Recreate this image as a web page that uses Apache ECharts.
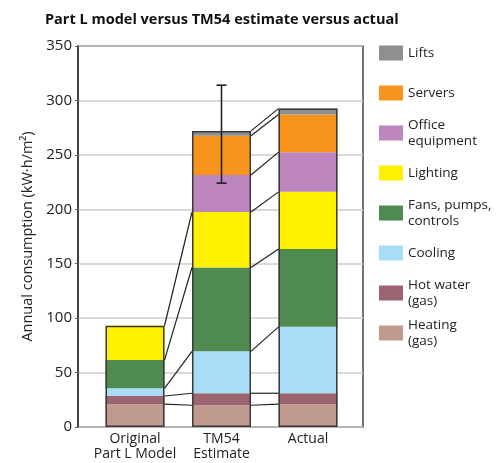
<!DOCTYPE html>
<html>
<head>
<meta charset="utf-8">
<script src="https://cdn.jsdelivr.net/npm/echarts@6/dist/echarts.min.js"></script>
<style>
  html, body { margin: 0; padding: 0; background: #fff; }
  #chart { width: 496px; height: 463px; }
</style>
</head>
<body>
<div id="chart"></div>
<script>
// categories + stacked segments (kW·h/m² per year), bottom to top
const categories = ['Original\nPart L Model', 'TM54\nEstimate', 'Actual'];
const heating  = [21, 20, 21];
const hotWater = [7.5, 11, 10];
const cooling  = [7, 38.5, 61];
const fans     = [26, 77, 71.5];
const lighting = [31.5, 51, 52.5];
const office   = [0, 34, 36.5];
const servers  = [0, 36, 34.5];
const lifts    = [0, 4.5, 5.5];
// TM54 estimate range (error bar), index 1
const tm54Range = [224, 314];
const yMin = 0, yMax = 350, yStep = 50;

const font = 'Open Sans';
const barW = 59;

const layers = [
  { name: 'Heating (gas)', label: 'Heating\n(gas)', data: heating, color: '#c09a8f' },
  { name: 'Hot water (gas)', label: 'Hot water\n(gas)', data: hotWater, color: '#9c6371' },
  { name: 'Cooling', label: 'Cooling', data: cooling, color: '#a9dcf5' },
  { name: 'Fans, pumps, controls', label: 'Fans, pumps,\ncontrols', data: fans, color: '#4f8b50' },
  { name: 'Lighting', label: 'Lighting', data: lighting, color: '#fff000' },
  { name: 'Office equipment', label: 'Office\nequipment', data: office, color: '#bd86bf' },
  { name: 'Servers', label: 'Servers', data: servers, color: '#f7941e' },
  { name: 'Lifts', label: 'Lifts', data: lifts, color: '#8e8f91' }
];

// cumulative tops per bar
const cum = categories.map((c, i) => {
  let s = 0;
  return layers.map(l => (s += l.data[i]));
});
const totals = cum.map(r => r[r.length - 1]);

// connector lines between matching segment tops of neighbouring bars
const links = [];
for (let i = 0; i < categories.length - 1; i++) {
  layers.forEach((l, k) => {
    if (l.data[i] > 0 && l.data[i + 1] > 0) links.push([i, cum[i][k], cum[i + 1][k]]);
  });
}

const chart = echarts.init(document.getElementById('chart'));

const series = layers.map(l => ({
  name: l.name,
  type: 'bar',
  stack: 'total',
  xAxisIndex: 1,
  yAxisIndex: 1,
  barWidth: barW,
  barGap: '-100%',
  itemStyle: { color: l.color },
  data: l.data
}));

// outline round each whole bar
series.push({
  name: 'outline',
  type: 'bar',
  xAxisIndex: 1,
  yAxisIndex: 1,
  barWidth: barW,
  barGap: '-100%',
  z: 3,
  silent: true,
  itemStyle: { color: 'rgba(0,0,0,0)', borderColor: '#3a3a3a', borderWidth: 1.5 },
  data: totals
});

series.push({
  name: 'links',
  type: 'custom',
  xAxisIndex: 1,
  yAxisIndex: 1,
  z: 4,
  silent: true,
  encode: { x: 0, y: [1, 2] },
  renderItem: (params, api) => {
    const p1 = api.coord([api.value(0), api.value(1)]);
    const p2 = api.coord([api.value(0) + 1, api.value(2)]);
    return {
      type: 'line',
      shape: { x1: p1[0] + barW / 2, y1: p1[1], x2: p2[0] - barW / 2, y2: p2[1] },
      style: { stroke: '#222', lineWidth: 1.2 }
    };
  },
  data: links
});

series.push({
  name: 'range',
  type: 'custom',
  xAxisIndex: 1,
  yAxisIndex: 1,
  z: 5,
  silent: true,
  encode: { x: 0, y: [1, 2] },
  renderItem: (params, api) => {
    const lo = api.coord([api.value(0), api.value(1)]);
    const hi = api.coord([api.value(0), api.value(2)]);
    const cap = 5;
    const st = { stroke: '#222', lineWidth: 1.6 };
    return {
      type: 'group',
      children: [
        { type: 'line', shape: { x1: lo[0], y1: lo[1], x2: hi[0], y2: hi[1] }, style: st },
        { type: 'line', shape: { x1: lo[0] - cap, y1: lo[1], x2: lo[0] + cap, y2: lo[1] }, style: st },
        { type: 'line', shape: { x1: hi[0] - cap, y1: hi[1], x2: hi[0] + cap, y2: hi[1] }, style: st }
      ]
    };
  },
  data: [[1, tm54Range[0], tm54Range[1]]]
});

// one legend per entry so the rows sit on an even 40px pitch
const legendRows = layers.slice().reverse();
const legends = legendRows.map((l, k) => {
  const lines = l.label.split('\n').length;
  const centre = 53 + 40 * k;
  return {
    orient: 'vertical',
    left: 374,
    top: centre - 5 - (lines * 15.5) / 2,
    itemWidth: 24,
    itemHeight: 15,
    icon: 'rect',
    selectedMode: false,
    data: [l.name],
    formatter: () => l.label,
    textStyle: { fontFamily: font, fontSize: 13.5, lineHeight: 15.5, color: '#222' }
  };
});

chart.setOption({
  animation: false,
  title: {
    text: 'Part L model versus TM54 estimate versus actual',
    left: 40,
    top: 7,
    textStyle: { fontFamily: font, fontSize: 14.5, fontWeight: 'bold', color: '#111' }
  },
  legend: legends,
  grid: [
    // frame
    { left: 78, top: 46, width: 285, height: 381, show: true, borderColor: '#444', borderWidth: 1.5, backgroundColor: 'transparent' },
    // bars
    { left: 91.75, top: 46, width: 259.5, height: 381 }
  ],
  xAxis: [
    { gridIndex: 0, type: 'value', show: false, min: 0, max: 1 },
    {
      gridIndex: 1,
      type: 'category',
      data: categories,
      axisLine: { show: false },
      axisTick: { show: false },
      axisLabel: { margin: 5, fontFamily: font, fontSize: 14, lineHeight: 15, color: '#222', interval: 0 }
    }
  ],
  yAxis: [
    {
      gridIndex: 0,
      type: 'value',
      min: yMin,
      max: yMax,
      interval: yStep,
      name: 'Annual consumption (kW·h/m²)',
      nameLocation: 'middle',
      nameGap: 40,
      nameTextStyle: { fontFamily: font, fontSize: 14.5, color: '#222' },
      axisLine: { show: true, lineStyle: { color: '#333', width: 1.5 } },
      axisTick: { show: true, length: 3, lineStyle: { color: '#666' } },
      axisLabel: { margin: 6, fontFamily: font, fontSize: 15, color: '#222' },
      splitLine: { show: true, lineStyle: { color: '#cccccc', width: 1.5 } }
    },
    { gridIndex: 1, type: 'value', min: yMin, max: yMax, interval: yStep, show: false, splitLine: { show: false } }
  ],
  series: series
});
</script>
</body>
</html>
